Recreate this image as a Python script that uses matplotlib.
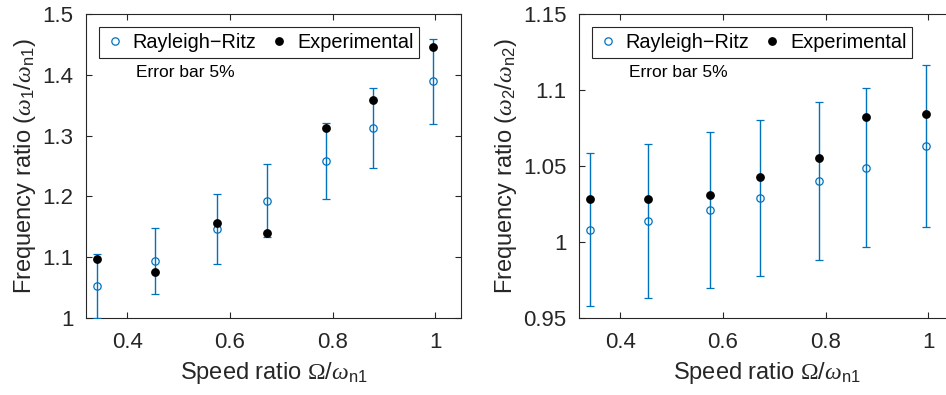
import matplotlib
matplotlib.use("Agg")
import matplotlib.pyplot as plt
from matplotlib.lines import Line2D
import numpy as np

plt.rcParams['font.family'] = ['Liberation Sans', 'DejaVu Sans']
plt.rcParams['mathtext.fontset'] = 'custom'
plt.rcParams['mathtext.rm'] = 'Liberation Serif'
plt.rcParams['mathtext.it'] = 'Liberation Serif:italic'
plt.rcParams['mathtext.sf'] = 'Liberation Sans'
plt.rcParams['mathtext.bf'] = 'Liberation Sans:bold'

speed = [0.341, 0.455, 0.575, 0.672, 0.788, 0.878, 0.995]
rr1 = [1.053, 1.094, 1.146, 1.193, 1.258, 1.313, 1.389]
exp1 = [1.097, 1.076, 1.157, 1.140, 1.313, 1.358, 1.446]
rr2 = [1.008, 1.014, 1.021, 1.029, 1.040, 1.049, 1.063]
exp2 = [1.028, 1.028, 1.031, 1.043, 1.055, 1.082, 1.084]
err_frac = 0.05

xticks = [0.4, 0.6, 0.8, 1.0]
xticklabels = ['0.4', '0.6', '0.8', '1']
yticks1 = [1.0, 1.1, 1.2, 1.3, 1.4, 1.5]
yticklabels1 = ['1', '1.1', '1.2', '1.3', '1.4', '1.5']
yticks2 = [0.95, 1.0, 1.05, 1.1, 1.15]
yticklabels2 = ['0.95', '1', '1.05', '1.1', '1.15']

blue = '#0072BD'
axcol = '#262626'

fig = plt.figure(figsize=(9.46, 3.95), dpi=100)
W, H = 946, 395
def pos(x0, x1, y0, y1):
    return [x0 / W, 1 - y1 / H, (x1 - x0) / W, (y1 - y0) / H]

ax1 = fig.add_axes(pos(86, 461, 14, 318))
ax2 = fig.add_axes(pos(579, 954, 14, 318))

panels = [
    (ax1, rr1, exp1, (1.0, 1.5), yticks1, yticklabels1,
     r'Frequency ratio ($\omega_{\mathsf{1}}\mathsf{/}\omega_{\mathsf{n1}}$)'),
    (ax2, rr2, exp2, (0.95, 1.15), yticks2, yticklabels2,
     r'Frequency ratio ($\omega_{\mathsf{2}}\mathsf{/}\omega_{\mathsf{n2}}$)'),
]

ms = 5.3
for ax, rr, ex, ylim, yt, ytl, ylab in panels:
    rr_a = np.array(rr)
    ax.errorbar(speed, rr, yerr=err_frac * rr_a, fmt='o', color=blue,
                mfc='none', mec=blue, ms=ms, mew=0.9, elinewidth=1.0,
                capsize=3, capthick=1.0, zorder=3)
    ax.plot(speed, ex, 'o', color='black', ms=ms, zorder=4)
    ax.set_xlim(0.32, 1.05)
    ax.set_ylim(*ylim)
    ax.set_xticks(xticks)
    ax.set_xticklabels(xticklabels)
    ax.set_yticks(yt)
    ax.set_yticklabels(ytl)
    ax.tick_params(direction='in', top=True, right=True, labelsize=16,
                   colors=axcol, labelcolor='#262626', length=4, width=0.8)
    ax.tick_params(axis='x', pad=10)
    ax.tick_params(axis='y', pad=9)
    for s in ax.spines.values():
        s.set_color(axcol)
        s.set_linewidth(0.8)
    ax.set_xlabel(r'Speed ratio $\Omega\mathsf{/}\omega_{\mathsf{n1}}$', fontsize=17,
                  color='#262626', labelpad=5)
    ax.set_ylabel(ylab, fontsize=17, color='#262626', labelpad=3)
    h = [Line2D([], [], ls='none', marker='o', mfc='none', mec=blue, ms=ms, mew=0.9),
         Line2D([], [], ls='none', marker='o', color='black', ms=ms)]
    leg = ax.legend(h, ['Rayleigh\u2212Ritz', 'Experimental'], ncol=2,
                    loc='upper left', bbox_to_anchor=(0.034, 0.958),
                    fontsize=14.3, frameon=True, fancybox=False,
                    edgecolor=axcol, framealpha=1, borderpad=0.3,
                    handletextpad=0.4, columnspacing=0.65, handlelength=1.0,
                    borderaxespad=0)
    leg.get_frame().set_linewidth(0.8)
    ax.text(0.134, 0.807, 'Error bar 5%', transform=ax.transAxes,
            fontsize=12.5, va='center', ha='left', color='black')

fig.savefig('out.png', dpi=100)
